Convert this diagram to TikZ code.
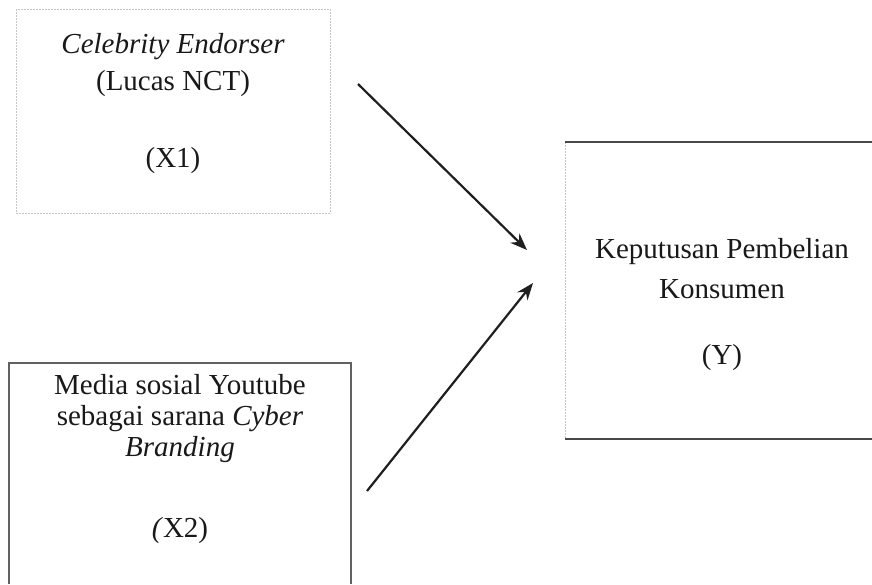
\documentclass[tikz,border=0pt]{standalone}
\usepackage{fontspec}
\setmainfont{Liberation Serif}
\usetikzlibrary{arrows.meta}
\tikzset{
  boxshape/.style={rectangle, inner sep=0pt, outer sep=0pt},
  txt/.style={anchor=base, inner sep=0pt, text=black!90, font=\fontsize{29}{33}\selectfont},
  faintline/.style={draw=gray!45, line width=0.8pt, dash pattern=on 2pt off 1pt},
  midline/.style={draw=black!62, line width=1.3pt},
  darkline/.style={draw=black!72, line width=2pt},
  link/.style={draw=black!88, line width=2.2pt, -{Stealth[length=17pt,width=13pt]}}
}
\begin{document}
\begin{tikzpicture}[x=1pt,y=-1pt]
\useasboundingbox (0,0) rectangle (872,584);
\fill[white] (0,0) rectangle (872,584);
% boxes
\node[boxshape, minimum width=314pt, minimum height=204pt] (x1) at (173,111) {};
\node[boxshape, minimum width=342pt, minimum height=221pt] (x2) at (180,473.5) {};
\node[boxshape, minimum width=307pt, minimum height=297pt] (y) at (718.5,290.5) {};
\draw[faintline] (x1.north west) rectangle (x1.south east);
\draw[midline] (x2.south west) -- (x2.north west) -- (x2.north east) -- (x2.south east);
\draw[faintline] (y.north west) -- (y.south west);
\draw[darkline] (y.north west) -- (y.north east);
\draw[darkline] (y.south west) -- (y.south east);
% texts
\node[txt] (x1a) at (173,53) {\itshape Celebrity Endorser};
\node[txt] (x1b) at (173,90) {(Lucas NCT)};
\node[txt] (x1c) at (173,167) {(X1)};
\node[txt] (x2a) at (180,394) {Media sosial Youtube};
\node[txt] (x2b) at (180,425) {sebagai sarana \textit{Cyber}};
\node[txt] (x2c) at (180,456) {\itshape Branding};
\node[txt] (x2d) at (180,537) {\textit{(}X2)};
\node[txt] (ya) at (722,258) {Keputusan Pembelian};
\node[txt] (yb) at (722,298) {Konsumen};
\node[txt] (yc) at (722,364) {(Y)};
% arrows
\coordinate (a1s) at (358,84);
\coordinate (a1e) at (527,250);
\coordinate (a2s) at (367,491);
\coordinate (a2e) at (533,283);
\draw[link] (a1s) -- (a1e);
\draw[link] (a2s) -- (a2e);
\end{tikzpicture}
\end{document}
